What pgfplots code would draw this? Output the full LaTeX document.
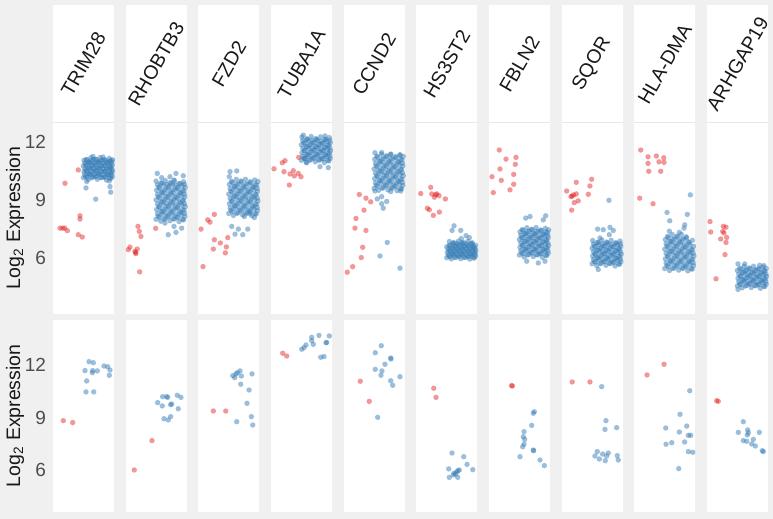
\documentclass[border=0pt]{standalone}
\usepackage{pgfplots}
\pgfplotsset{compat=1.18}
\usepackage{pgfplotstable}
\usepackage{fontspec}
\setmainfont{Liberation Sans}
\definecolor{setred}{HTML}{E41A1C}
\definecolor{setblue}{HTML}{377EB8}
\definecolor{bggray}{HTML}{F0F0F0}
\definecolor{tickgray}{HTML}{4D4D4D}
\definecolor{linegray}{HTML}{E8E8E8}

% ---------- TRIM28 ----------
\pgfplotstableread[row sep=\\]{x y\\25.3 10.55\\12.0 9.86\\27.0 8.18\\27.0 8.01\\7.0 7.54\\9.7 7.54\\11.7 7.54\\14.3 7.41\\25.3 7.20\\29.3 7.08\\}\tAr
\pgfplotstableread[row sep=\\]{x y\\
30.4 10.15\\35.1 10.05\\39.7 10.18\\44.3 10.07\\48.8 10.16\\53.4 10.03\\57.9 10.12\\
32.7 10.21\\37.2 10.31\\42.0 10.23\\46.5 10.32\\51.1 10.19\\55.6 10.28\\59.2 10.20\\
31.0 10.45\\35.8 10.35\\40.2 10.48\\44.9 10.37\\49.5 10.46\\54.0 10.33\\58.4 10.42\\
33.2 10.51\\37.9 10.61\\42.6 10.53\\47.1 10.62\\51.8 10.49\\56.3 10.58\\59.6 10.50\\
30.4 10.75\\35.1 10.65\\39.7 10.78\\44.3 10.67\\48.8 10.76\\53.4 10.63\\57.9 10.72\\
32.7 10.81\\37.2 10.91\\42.0 10.83\\46.5 10.92\\51.1 10.79\\55.6 10.88\\59.2 10.80\\
31.0 11.05\\35.8 10.95\\40.2 11.08\\44.9 10.97\\49.5 11.06\\54.0 10.93\\58.4 11.02\\
33.2 11.08\\37.9 11.18\\42.6 11.10\\47.1 11.19\\51.8 11.06\\56.3 11.15\\59.6 11.07\\
34.0 10.19\\38.5 10.14\\43.0 10.20\\47.6 10.15\\52.2 10.18\\56.8 10.13\\
31.8 10.30\\36.3 10.35\\40.9 10.31\\45.5 10.34\\50.1 10.29\\54.7 10.33\\58.8 10.31\\
34.0 10.49\\38.5 10.44\\43.0 10.50\\47.6 10.45\\52.2 10.48\\56.8 10.43\\
31.8 10.60\\36.3 10.65\\40.9 10.61\\45.5 10.64\\50.1 10.59\\54.7 10.63\\58.8 10.61\\
34.0 10.79\\38.5 10.74\\43.0 10.80\\47.6 10.75\\52.2 10.78\\56.8 10.73\\
31.8 10.90\\36.3 10.95\\40.9 10.91\\45.5 10.94\\50.1 10.89\\54.7 10.93\\58.8 10.91\\
34.0 11.08\\38.5 11.03\\43.0 11.09\\47.6 11.04\\52.2 11.07\\56.8 11.02\\
40.0 11.25\\50.0 11.22\\33.0 9.62\\42.7 9.04\\57.0 9.69\\57.7 9.40\\56.3 9.98\\33.7 9.95\\}\tAb
\pgfplotstableread[row sep=\\]{x y\\10.3 8.82\\19.7 8.71\\}\bAr
\pgfplotstableread[row sep=\\]{x y\\32 11.68\\36 12.19\\40.3 12.13\\44.3 11.66\\39.3 11.56\\39.7 11.68\\33.7 11.09\\33 10.46\\40.7 10.46\\51 11.94\\54.7 11.90\\57 11.71\\56.3 11.41\\}\bAb

% ---------- RHOBTB3 ----------
\pgfplotstableread[row sep=\\]{x y\\12.3 7.63\\13.6 7.37\\15.3 7.11\\4.3 6.56\\2.6 6.43\\9.3 6.34\\10.3 6.22\\9.8 6.28\\11.6 6.46\\14.0 5.28\\30.0 7.53\\}\tBr
\pgfplotstableread[row sep=\\]{x y\\
30.4 8.00\\35.1 7.90\\39.7 8.03\\44.3 7.92\\48.8 8.01\\53.4 7.88\\57.9 7.97\\
32.7 8.16\\37.2 8.26\\42.0 8.18\\46.5 8.27\\51.1 8.14\\55.6 8.23\\59.2 8.15\\
31.0 8.50\\35.8 8.40\\40.2 8.53\\44.9 8.42\\49.5 8.51\\54.0 8.38\\58.4 8.47\\
33.2 8.66\\37.9 8.76\\42.6 8.68\\47.1 8.77\\51.8 8.64\\56.3 8.73\\59.6 8.65\\
30.4 9.00\\35.1 8.90\\39.7 9.03\\44.3 8.92\\48.8 9.01\\53.4 8.88\\57.9 8.97\\
32.7 9.16\\37.2 9.26\\42.0 9.18\\46.5 9.27\\51.1 9.14\\55.6 9.23\\59.2 9.15\\
31.0 9.50\\35.8 9.40\\40.2 9.53\\44.9 9.42\\49.5 9.51\\54.0 9.38\\58.4 9.47\\
33.2 9.66\\37.9 9.76\\42.6 9.68\\47.1 9.77\\51.8 9.64\\56.3 9.73\\59.6 9.65\\
30.4 9.97\\35.1 9.87\\39.7 10.00\\44.3 9.89\\48.8 9.98\\53.4 9.85\\57.9 9.94\\
34.0 8.11\\38.5 8.01\\43.0 8.13\\47.6 8.03\\52.2 8.09\\56.8 7.99\\
31.8 8.28\\36.3 8.38\\40.9 8.30\\45.5 8.36\\50.1 8.26\\54.7 8.34\\58.8 8.30\\
34.0 8.61\\38.5 8.51\\43.0 8.63\\47.6 8.53\\52.2 8.59\\56.8 8.49\\
31.8 8.78\\36.3 8.88\\40.9 8.80\\45.5 8.86\\50.1 8.76\\54.7 8.84\\58.8 8.80\\
34.0 9.11\\38.5 9.01\\43.0 9.13\\47.6 9.03\\52.2 9.09\\56.8 8.99\\
31.8 9.28\\36.3 9.38\\40.9 9.30\\45.5 9.36\\50.1 9.26\\54.7 9.34\\58.8 9.30\\
34.0 9.61\\38.5 9.51\\43.0 9.63\\47.6 9.53\\52.2 9.59\\56.8 9.49\\
31.8 9.78\\36.3 9.88\\40.9 9.80\\45.5 9.86\\50.1 9.76\\54.7 9.84\\58.8 9.80\\
31.6 10.37\\36.0 10.15\\44.3 10.20\\50.3 10.37\\57.6 10.25\\48.3 10.03\\39.3 7.80\\42.6 7.20\\50.3 7.32\\56.0 7.54\\48.3 7.63\\}\tBb
\pgfplotstableread[row sep=\\]{x y\\8.6 6.0\\26.3 7.68\\}\bBr
\pgfplotstableread[row sep=\\]{x y\\32 9.85\\37 10.19\\41 10.19\\42 10.15\\36.6 9.66\\45 9.73\\46 9.77\\51.6 10.27\\55.3 10.15\\52.6 9.50\\38.3 8.93\\42.6 8.86\\45 9.05\\}\bBb

% ---------- FZD2 ----------
\pgfplotstableread[row sep=\\]{x y\\16.0 8.25\\9.4 7.97\\11.7 7.85\\2.7 7.49\\16.0 6.94\\22.0 6.77\\29.4 7.05\\15.0 6.46\\28.0 6.57\\27.0 6.26\\4.7 5.55\\}\tCr
\pgfplotstableread[row sep=\\]{x y\\
30.4 8.30\\35.1 8.20\\39.7 8.33\\44.3 8.22\\48.8 8.31\\53.4 8.18\\57.9 8.27\\
32.7 8.46\\37.2 8.56\\42.0 8.48\\46.5 8.57\\51.1 8.44\\55.6 8.53\\59.2 8.45\\
31.0 8.80\\35.8 8.70\\40.2 8.83\\44.9 8.72\\49.5 8.81\\54.0 8.68\\58.4 8.77\\
33.2 8.96\\37.9 9.06\\42.6 8.98\\47.1 9.07\\51.8 8.94\\56.3 9.03\\59.6 8.95\\
30.4 9.30\\35.1 9.20\\39.7 9.33\\44.3 9.22\\48.8 9.31\\53.4 9.18\\57.9 9.27\\
32.7 9.46\\37.2 9.56\\42.0 9.48\\46.5 9.57\\51.1 9.44\\55.6 9.53\\59.2 9.45\\
31.0 9.80\\35.8 9.70\\40.2 9.83\\44.9 9.72\\49.5 9.81\\54.0 9.68\\58.4 9.77\\
33.2 9.96\\37.9 10.06\\42.6 9.98\\47.1 10.07\\51.8 9.94\\56.3 10.03\\59.6 9.95\\
34.0 8.41\\38.5 8.31\\43.0 8.43\\47.6 8.33\\52.2 8.39\\56.8 8.29\\
31.8 8.58\\36.3 8.68\\40.9 8.60\\45.5 8.66\\50.1 8.56\\54.7 8.64\\58.8 8.60\\
34.0 8.91\\38.5 8.81\\43.0 8.93\\47.6 8.83\\52.2 8.89\\56.8 8.79\\
31.8 9.08\\36.3 9.18\\40.9 9.10\\45.5 9.16\\50.1 9.06\\54.7 9.14\\58.8 9.10\\
34.0 9.41\\38.5 9.31\\43.0 9.43\\47.6 9.33\\52.2 9.39\\56.8 9.29\\
31.8 9.58\\36.3 9.68\\40.9 9.60\\45.5 9.66\\50.1 9.56\\54.7 9.64\\58.8 9.60\\
34.0 9.91\\38.5 9.81\\43.0 9.93\\47.6 9.83\\52.2 9.89\\56.8 9.79\\
31.7 10.46\\38.4 10.50\\31.0 10.20\\33.4 7.63\\40.0 7.49\\36.7 7.23\\44.4 7.20\\49.4 7.49\\46.0 8.14\\56.0 8.09\\51.7 8.30\\}\tCb
\pgfplotstableread[row sep=\\]{x y\\15 9.37\\27.4 9.37\\}\bCr
\pgfplotstableread[row sep=\\]{x y\\34.4 11.39\\36.4 11.28\\39 11.56\\41.7 11.66\\43 11.37\\37.7 11.49\\42.4 10.90\\50.7 10.57\\53.7 11.49\\48.7 9.81\\53 9.05\\54.4 8.57\\38.4 8.76\\}\bCb

% ---------- TUBA1A ----------
\pgfplotstableread[row sep=\\]{x y\\3.0 10.61\\11.3 10.92\\14.0 11.03\\13.0 10.46\\19.0 10.34\\22.3 10.51\\23.3 10.24\\27.3 10.37\\18.3 9.77\\27.7 11.20\\30.0 10.20\\}\tDr
\pgfplotstableread[row sep=\\]{x y\\
30.4 11.05\\35.1 10.95\\39.7 11.08\\44.3 10.97\\48.8 11.06\\53.4 10.93\\57.9 11.02\\
32.7 11.16\\37.2 11.26\\42.0 11.18\\46.5 11.27\\51.1 11.14\\55.6 11.23\\59.2 11.15\\
31.0 11.45\\35.8 11.35\\40.2 11.48\\44.9 11.37\\49.5 11.46\\54.0 11.33\\58.4 11.42\\
33.2 11.56\\37.9 11.66\\42.6 11.58\\47.1 11.67\\51.8 11.54\\56.3 11.63\\59.6 11.55\\
30.4 11.85\\35.1 11.75\\39.7 11.88\\44.3 11.77\\48.8 11.86\\53.4 11.73\\57.9 11.82\\
32.7 11.96\\37.2 12.06\\42.0 11.98\\46.5 12.07\\51.1 11.94\\55.6 12.03\\59.2 11.95\\
31.0 12.25\\35.8 12.15\\40.2 12.28\\44.9 12.17\\49.5 12.26\\54.0 12.13\\58.4 12.22\\
34.0 11.13\\38.5 11.05\\43.0 11.15\\47.6 11.07\\52.2 11.12\\56.8 11.04\\
31.8 11.27\\36.3 11.35\\40.9 11.28\\45.5 11.33\\50.1 11.25\\54.7 11.32\\58.8 11.28\\
34.0 11.53\\38.5 11.45\\43.0 11.55\\47.6 11.47\\52.2 11.52\\56.8 11.44\\
31.8 11.67\\36.3 11.75\\40.9 11.68\\45.5 11.73\\50.1 11.65\\54.7 11.72\\58.8 11.68\\
34.0 11.93\\38.5 11.85\\43.0 11.95\\47.6 11.87\\52.2 11.92\\56.8 11.84\\
31.8 12.07\\36.3 12.15\\40.9 12.08\\45.5 12.13\\50.1 12.05\\54.7 12.12\\58.8 12.08\\
32.3 12.35\\54.0 12.31\\35.7 10.92\\49.0 10.72\\57.3 10.67\\34.0 11.15\\}\tDb
\pgfplotstableread[row sep=\\]{x y\\11.7 12.67\\15.7 12.51\\}\bDr
\pgfplotstableread[row sep=\\]{x y\\30.7 12.9\\33 12.99\\35 13.14\\40.7 13.58\\40.7 13.39\\42.3 13.18\\48 13.69\\58.3 13.66\\55 13.27\\55.7 13.29\\49.7 12.44\\53 12.48\\}\bDb

% ---------- CCND2 ----------
\pgfplotstableread[row sep=\\]{x y\\15.6 9.28\\22.3 9.09\\27.0 8.90\\20.3 8.47\\12.3 8.04\\11.3 7.54\\22.3 7.42\\19.0 6.55\\17.6 6.02\\9.0 5.55\\3.6 5.26\\}\tEr
\pgfplotstableread[row sep=\\]{x y\\
30.4 9.60\\35.1 9.50\\39.7 9.63\\44.3 9.52\\48.8 9.61\\53.4 9.48\\57.9 9.57\\
32.7 9.76\\37.2 9.86\\42.0 9.78\\46.5 9.87\\51.1 9.74\\55.6 9.83\\59.2 9.75\\
31.0 10.10\\35.8 10.00\\40.2 10.13\\44.9 10.02\\49.5 10.11\\54.0 9.98\\58.4 10.07\\
33.2 10.26\\37.9 10.36\\42.6 10.28\\47.1 10.37\\51.8 10.24\\56.3 10.33\\59.6 10.25\\
30.4 10.60\\35.1 10.50\\39.7 10.63\\44.3 10.52\\48.8 10.61\\53.4 10.48\\57.9 10.57\\
32.7 10.76\\37.2 10.86\\42.0 10.78\\46.5 10.87\\51.1 10.74\\55.6 10.83\\59.2 10.75\\
31.0 11.10\\35.8 11.00\\40.2 11.13\\44.9 11.02\\49.5 11.11\\54.0 10.98\\58.4 11.07\\
33.2 11.26\\37.9 11.36\\42.6 11.28\\47.1 11.37\\51.8 11.24\\56.3 11.33\\59.6 11.25\\
34.0 9.71\\38.5 9.61\\43.0 9.73\\47.6 9.63\\52.2 9.69\\56.8 9.59\\
31.8 9.88\\36.3 9.98\\40.9 9.90\\45.5 9.96\\50.1 9.86\\54.7 9.94\\58.8 9.90\\
34.0 10.21\\38.5 10.11\\43.0 10.23\\47.6 10.13\\52.2 10.19\\56.8 10.09\\
31.8 10.38\\36.3 10.48\\40.9 10.40\\45.5 10.46\\50.1 10.36\\54.7 10.44\\58.8 10.40\\
34.0 10.71\\38.5 10.61\\43.0 10.73\\47.6 10.63\\52.2 10.69\\56.8 10.59\\
31.8 10.88\\36.3 10.98\\40.9 10.90\\45.5 10.96\\50.1 10.86\\54.7 10.94\\58.8 10.90\\
34.0 11.21\\38.5 11.11\\43.0 11.23\\47.6 11.13\\52.2 11.19\\56.8 11.09\\
31.3 11.44\\38.0 11.45\\47.0 11.35\\56.3 11.32\\31.3 9.46\\33.6 9.05\\38.0 9.17\\38.0 8.80\\39.6 8.57\\43.0 8.92\\47.0 9.43\\57.0 9.46\\43.6 6.80\\36.3 6.10\\56.3 5.47\\}\tEb
\pgfplotstableread[row sep=\\]{x y\\16.6 11.07\\25.6 9.92\\}\bEr
\pgfplotstableread[row sep=\\]{x y\\31.6 12.70\\37.6 13.10\\41.3 12.04\\31.6 11.75\\38.3 11.66\\37.3 11.41\\47 12.40\\47.3 12.34\\47 11.10\\56.3 11.33\\49 10.84\\34 9.01\\}\bEb

% ---------- HS3ST2 ----------
\pgfplotstableread[row sep=\\]{x y\\4.4 9.33\\14.4 9.65\\15.4 9.31\\18.0 9.14\\20.4 9.31\\19.2 9.27\\22.7 9.22\\29.0 9.05\\11.0 8.57\\13.0 8.49\\23.0 8.37\\17.0 8.20\\}\tFr
\pgfplotstableread[row sep=\\]{x y\\
30.4 6.01\\35.1 5.95\\39.7 6.03\\44.3 5.96\\48.8 6.02\\53.4 5.94\\57.9 5.99\\
32.7 6.09\\37.2 6.16\\42.0 6.11\\46.5 6.17\\51.1 6.08\\55.6 6.14\\59.2 6.09\\
31.0 6.29\\35.8 6.23\\40.2 6.31\\44.9 6.24\\49.5 6.30\\54.0 6.22\\58.4 6.27\\
33.2 6.37\\37.9 6.44\\42.6 6.39\\47.1 6.45\\51.8 6.36\\56.3 6.42\\59.6 6.37\\
30.4 6.57\\35.1 6.51\\39.7 6.59\\44.3 6.52\\48.8 6.58\\53.4 6.50\\57.9 6.55\\
32.7 6.65\\37.2 6.72\\42.0 6.67\\46.5 6.73\\51.1 6.64\\55.6 6.70\\59.2 6.65\\
33.0 6.85\\37.8 6.79\\42.2 6.87\\46.9 6.80\\51.5 6.86\\56.0 6.78\\
34.0 6.07\\38.5 6.03\\43.0 6.08\\47.6 6.03\\52.2 6.06\\56.8 6.02\\
31.8 6.17\\36.3 6.21\\40.9 6.18\\45.5 6.21\\50.1 6.17\\54.7 6.20\\58.8 6.18\\
34.0 6.35\\38.5 6.31\\43.0 6.36\\47.6 6.31\\52.2 6.34\\56.8 6.30\\
31.8 6.45\\36.3 6.49\\40.9 6.46\\45.5 6.49\\50.1 6.45\\54.7 6.48\\58.8 6.46\\
34.0 6.63\\38.5 6.59\\43.0 6.64\\47.6 6.59\\52.2 6.62\\56.8 6.58\\
36.3 6.77\\40.9 6.74\\45.5 6.77\\50.1 6.73\\54.7 6.76\\
37.7 7.66\\44.4 7.42\\49.7 7.15\\35.7 7.42\\45.0 7.00\\53.0 7.05\\}\tFb
\pgfplotstableread[row sep=\\]{x y\\17.4 10.67\\19.7 10.15\\}\bFr
\pgfplotstableread[row sep=\\]{x y\\35.7 6.97\\47.4 6.76\\50.7 6.32\\56.4 6.02\\32.4 6.06\\33 5.58\\37.7 5.81\\40.4 5.90\\41.7 5.96\\43 6.00\\39.4 5.77\\41.4 5.58\\37 5.72\\}\bFb

% ---------- FBLN2 ----------
\pgfplotstableread[row sep=\\]{x y\\10.3 11.58\\17.0 11.11\\27.0 11.20\\26.3 10.84\\11.0 10.60\\24.7 10.32\\3.0 10.20\\12.3 10.01\\24.7 9.81\\21.0 9.52\\4.3 9.38\\}\tGr
\pgfplotstableread[row sep=\\]{x y\\
30.4 6.15\\35.1 6.05\\39.7 6.18\\44.3 6.07\\48.8 6.16\\53.4 6.03\\57.9 6.12\\
32.7 6.26\\37.2 6.36\\42.0 6.28\\46.5 6.37\\51.1 6.24\\55.6 6.33\\59.2 6.25\\
31.0 6.55\\35.8 6.45\\40.2 6.58\\44.9 6.47\\49.5 6.56\\54.0 6.43\\58.4 6.52\\
33.2 6.66\\37.9 6.76\\42.6 6.68\\47.1 6.77\\51.8 6.64\\56.3 6.73\\59.6 6.65\\
30.4 6.95\\35.1 6.85\\39.7 6.98\\44.3 6.87\\48.8 6.96\\53.4 6.83\\57.9 6.92\\
32.7 7.06\\37.2 7.16\\42.0 7.08\\46.5 7.17\\51.1 7.04\\55.6 7.13\\59.2 7.05\\
31.0 7.35\\35.8 7.25\\40.2 7.38\\44.9 7.27\\49.5 7.36\\54.0 7.23\\58.4 7.32\\
33.2 7.46\\37.9 7.56\\42.6 7.48\\47.1 7.57\\51.8 7.44\\56.3 7.53\\59.6 7.45\\
34.0 6.23\\38.5 6.15\\43.0 6.25\\47.6 6.17\\52.2 6.22\\56.8 6.14\\
31.8 6.37\\36.3 6.45\\40.9 6.38\\45.5 6.43\\50.1 6.35\\54.7 6.42\\58.8 6.38\\
34.0 6.63\\38.5 6.55\\43.0 6.65\\47.6 6.57\\52.2 6.62\\56.8 6.54\\
31.8 6.77\\36.3 6.85\\40.9 6.78\\45.5 6.83\\50.1 6.75\\54.7 6.82\\58.8 6.78\\
34.0 7.03\\38.5 6.95\\43.0 7.05\\47.6 6.97\\52.2 7.02\\56.8 6.94\\
31.8 7.17\\36.3 7.25\\40.9 7.18\\45.5 7.23\\50.1 7.15\\54.7 7.22\\58.8 7.18\\
34.0 7.43\\38.5 7.35\\43.0 7.45\\47.6 7.37\\52.2 7.42\\56.8 7.34\\
36.7 8.06\\41.0 8.14\\54.3 7.97\\56.7 8.18\\37.7 5.83\\49.3 5.74\\56.0 5.83\\}\tGb
\pgfplotstableread[row sep=\\]{x y\\22.5 10.82\\23.5 10.80\\}\bGr
\pgfplotstableread[row sep=\\]{x y\\44.3 9.24\\45.3 9.33\\42.7 8.55\\35 8.19\\34.3 7.90\\35.7 7.75\\35 7.48\\33.7 7.33\\31 6.76\\44.3 7.14\\44.6 7.10\\51 6.57\\55.3 6.25\\}\bGb

% ---------- SQOR ----------
\pgfplotstableread[row sep=\\]{x y\\5.0 9.46\\14.6 9.91\\30.0 10.07\\28.3 9.72\\9.3 9.17\\10.5 9.20\\12.0 9.26\\14.6 9.31\\16.6 8.95\\12.6 8.86\\26.7 9.29\\10.0 8.47\\}\tHr
\pgfplotstableread[row sep=\\]{x y\\
30.4 5.70\\35.1 5.60\\39.7 5.73\\44.3 5.62\\48.8 5.71\\53.4 5.58\\57.9 5.67\\
32.7 5.81\\37.2 5.91\\42.0 5.83\\46.5 5.92\\51.1 5.79\\55.6 5.88\\59.2 5.80\\
31.0 6.10\\35.8 6.00\\40.2 6.13\\44.9 6.02\\49.5 6.11\\54.0 5.98\\58.4 6.07\\
33.2 6.21\\37.9 6.31\\42.6 6.23\\47.1 6.32\\51.8 6.19\\56.3 6.28\\59.6 6.20\\
30.4 6.50\\35.1 6.40\\39.7 6.53\\44.3 6.42\\48.8 6.51\\53.4 6.38\\57.9 6.47\\
32.7 6.61\\37.2 6.71\\42.0 6.63\\46.5 6.72\\51.1 6.59\\55.6 6.68\\59.2 6.60\\
31.0 6.90\\35.8 6.80\\40.2 6.93\\44.9 6.82\\49.5 6.91\\54.0 6.78\\58.4 6.87\\
34.0 5.78\\38.5 5.70\\43.0 5.80\\47.6 5.72\\52.2 5.77\\56.8 5.69\\
31.8 5.92\\36.3 6.00\\40.9 5.93\\45.5 5.98\\50.1 5.90\\54.7 5.97\\58.8 5.93\\
34.0 6.18\\38.5 6.10\\43.0 6.20\\47.6 6.12\\52.2 6.17\\56.8 6.09\\
31.8 6.32\\36.3 6.40\\40.9 6.33\\45.5 6.38\\50.1 6.30\\54.7 6.37\\58.8 6.33\\
34.0 6.58\\38.5 6.50\\43.0 6.60\\47.6 6.52\\52.2 6.57\\56.8 6.49\\
31.8 6.72\\36.3 6.80\\40.9 6.73\\45.5 6.78\\50.1 6.70\\54.7 6.77\\58.8 6.73\\
36.0 7.49\\41.6 7.46\\48.3 7.58\\51.6 7.42\\47.6 7.20\\38.3 7.03\\47.3 8.98\\36.6 5.40\\}\tHb
\pgfplotstableread[row sep=\\]{x y\\10.6 11.03\\28.3 11.03\\}\bHr
\pgfplotstableread[row sep=\\]{x y\\40 10.76\\44.3 8.82\\43.3 8.32\\55 8.42\\35.6 7.05\\33.3 6.80\\37.7 6.63\\41 6.91\\45 6.80\\46.6 6.97\\43.6 6.53\\55.6 6.82\\56.6 6.57\\}\bHb

% ---------- HLA-DMA ----------
\pgfplotstableread[row sep=\\]{x y\\6.4 11.58\\13.7 11.23\\22.0 11.27\\13.7 10.89\\24.7 10.97\\29.7 10.94\\29.4 11.18\\14.4 10.48\\26.4 10.48\\5.4 9.09\\18.7 8.80\\}\tIr
\pgfplotstableread[row sep=\\]{x y\\
30.4 5.45\\35.1 5.35\\39.7 5.48\\44.3 5.37\\48.8 5.46\\53.4 5.33\\57.9 5.42\\
32.7 5.61\\37.2 5.71\\42.0 5.63\\46.5 5.72\\51.1 5.59\\55.6 5.68\\59.2 5.60\\
31.0 5.95\\35.8 5.85\\40.2 5.98\\44.9 5.87\\49.5 5.96\\54.0 5.83\\58.4 5.92\\
33.2 6.11\\37.9 6.21\\42.6 6.13\\47.1 6.22\\51.8 6.09\\56.3 6.18\\59.6 6.10\\
30.4 6.45\\35.1 6.35\\39.7 6.48\\44.3 6.37\\48.8 6.46\\53.4 6.33\\57.9 6.42\\
32.7 6.61\\37.2 6.71\\42.0 6.63\\46.5 6.72\\51.1 6.59\\55.6 6.68\\59.2 6.60\\
31.0 6.95\\35.8 6.85\\40.2 6.98\\44.9 6.87\\49.5 6.96\\54.0 6.83\\
33.2 7.11\\37.9 7.21\\42.6 7.13\\47.1 7.22\\51.8 7.09\\35.0 7.38\\45.0 7.32\\
34.0 5.56\\38.5 5.46\\43.0 5.58\\47.6 5.48\\52.2 5.54\\56.8 5.44\\
31.8 5.73\\36.3 5.83\\40.9 5.75\\45.5 5.81\\50.1 5.71\\54.7 5.79\\58.8 5.75\\
34.0 6.06\\38.5 5.96\\43.0 6.08\\47.6 5.98\\52.2 6.04\\56.8 5.94\\
31.8 6.23\\36.3 6.33\\40.9 6.25\\45.5 6.31\\50.1 6.21\\54.7 6.29\\58.8 6.25\\
34.0 6.56\\38.5 6.46\\43.0 6.58\\47.6 6.48\\52.2 6.54\\56.8 6.44\\
31.8 6.73\\36.3 6.83\\40.9 6.75\\45.5 6.81\\50.1 6.71\\54.7 6.79\\
34.0 7.06\\38.5 6.96\\43.0 7.08\\47.6 6.98\\52.2 7.04\\
56.0 9.26\\32.7 8.35\\53.0 8.25\\35.4 7.92\\50.4 7.71\\49.7 7.54\\58.0 6.91\\}\tIb
\pgfplotstableread[row sep=\\]{x y\\12.7 11.43\\29.7 12.04\\}\bIr
\pgfplotstableread[row sep=\\]{x y\\55.4 10.53\\45.7 9.18\\31.4 8.40\\45 8.17\\52.4 8.51\\54 7.98\\56.4 7.98\\37.4 7.56\\31.7 7.47\\50.3 7.60\\54 7.05\\58.4 7.01\\44.4 6.08\\}\bIb

% ---------- ARHGAP19 ----------
\pgfplotstableread[row sep=\\]{x y\\3.0 7.88\\3.7 7.34\\16.3 7.63\\19.0 7.59\\15.7 7.37\\17.0 7.29\\19.7 7.06\\13.7 6.98\\19.0 6.80\\18.0 6.17\\9.0 4.92\\}\tJr
\pgfplotstableread[row sep=\\]{x y\\
30.4 4.55\\35.1 4.45\\39.7 4.58\\44.3 4.47\\48.8 4.56\\53.4 4.43\\57.9 4.52\\
32.7 4.66\\37.2 4.76\\42.0 4.68\\46.5 4.77\\51.1 4.64\\55.6 4.73\\59.2 4.65\\
31.0 4.95\\35.8 4.85\\40.2 4.98\\44.9 4.87\\49.5 4.96\\54.0 4.83\\58.4 4.92\\
33.2 5.06\\37.9 5.16\\42.6 5.08\\47.1 5.17\\51.8 5.04\\56.3 5.13\\59.6 5.05\\
30.4 5.35\\35.1 5.25\\39.7 5.38\\44.3 5.27\\48.8 5.36\\53.4 5.23\\57.9 5.32\\
32.7 5.46\\37.2 5.56\\42.0 5.48\\46.5 5.57\\51.1 5.44\\55.6 5.53\\59.2 5.45\\
34.0 4.63\\38.5 4.55\\43.0 4.65\\47.6 4.57\\52.2 4.62\\56.8 4.54\\
31.8 4.77\\36.3 4.85\\40.9 4.78\\45.5 4.83\\50.1 4.75\\54.7 4.82\\58.8 4.78\\
34.0 5.03\\38.5 4.95\\43.0 5.05\\47.6 4.97\\52.2 5.02\\56.8 4.94\\
31.8 5.17\\36.3 5.25\\40.9 5.18\\45.5 5.23\\50.1 5.15\\54.7 5.22\\58.8 5.18\\
34.0 5.43\\38.5 5.35\\43.0 5.45\\47.6 5.37\\52.2 5.42\\56.8 5.34\\
31.0 5.69\\37.7 5.69\\57.0 5.60\\52.7 5.62\\31.0 4.37\\}\tJb
\pgfplotstableread[row sep=\\]{x y\\9.7 9.96\\11.3 9.92\\}\bJr
\pgfplotstableread[row sep=\\]{x y\\36.3 8.76\\31.3 8.15\\40.7 8.29\\41.3 8.13\\40.3 8.00\\52.3 8.15\\36.3 7.68\\39.7 7.64\\44.7 7.49\\46.3 7.75\\48.3 7.37\\55.3 7.10\\56.3 7.05\\}\bJb

\pgfplotsset{
  panel/.style={scale only axis, width=30.5pt, height=96pt, xmin=0, xmax=61,
    anchor=south west, axis line style={draw=none}, xtick=\empty, ytick=\empty,
    major tick length=0pt, axis background/.style={fill=white},
    tick label style={font=\fontsize{9.5}{11}\selectfont, text=tickgray},
    /pgf/number format/assume math mode=true,
    ylabel style={font=\fontsize{9.75}{11}\selectfont, text=black!90,
      at={(axis description cs:-0.623,0.5)}, anchor=center}},
  toppanel/.style={panel, ymin=3.1, ymax=13.03},
  botpanel/.style={panel, ymin=3.6, ymax=14.57},
  firstcol/.style={ytick={6,9,12}, ylabel={Log\textsubscript{2} Expression}},
  redpts/.style={only marks, mark=*, mark size=1.35pt, color=setred,
    mark options={draw opacity=0, fill=setred, fill opacity=0.45}},
  bluepts/.style={only marks, mark=*, mark size=1.35pt, color=setblue,
    mark options={draw opacity=0, fill=setblue, fill opacity=0.5}},
}
\tikzset{striplabel/.style={rotate=60, font=\fontsize{9.75}{11}\selectfont, text=black!90, inner sep=0pt}}

\newcommand{\panelpair}[7]{%
  \fill[white] (#1,198.5pt) rectangle ++(30.5pt,58.5pt);
  \begin{axis}[toppanel, #7, at={(#1,102.5pt)}]
    \addplot[bluepts] table {#3};
    \addplot[redpts] table {#2};
  \end{axis}
  \begin{axis}[botpanel, #7, at={(#1,3.5pt)}]
    \addplot[bluepts] table {#5};
    \addplot[redpts] table {#4};
  \end{axis}
  \draw[linegray, line width=0.4pt] (#1,198.5pt) -- ++(30.5pt,0);
  \node[striplabel] at (#1+15.25pt,227.5pt) {#6};
}

\begin{document}
\begin{tikzpicture}
\useasboundingbox (0,0) rectangle (386.5pt,259.5pt);
\fill[bggray] (0,0) rectangle (386.5pt,259.5pt);
\panelpair{26.5pt}{\tAr}{\tAb}{\bAr}{\bAb}{TRIM28}{firstcol}
\panelpair{62.83pt}{\tBr}{\tBb}{\bBr}{\bBb}{RHOBTB3}{}
\panelpair{99.17pt}{\tCr}{\tCb}{\bCr}{\bCb}{FZD2}{}
\panelpair{135.5pt}{\tDr}{\tDb}{\bDr}{\bDb}{TUBA1A}{}
\panelpair{171.83pt}{\tEr}{\tEb}{\bEr}{\bEb}{CCND2}{}
\panelpair{208.17pt}{\tFr}{\tFb}{\bFr}{\bFb}{HS3ST2}{}
\panelpair{244.5pt}{\tGr}{\tGb}{\bGr}{\bGb}{FBLN2}{}
\panelpair{280.83pt}{\tHr}{\tHb}{\bHr}{\bHb}{SQOR}{}
\panelpair{317.17pt}{\tIr}{\tIb}{\bIr}{\bIb}{HLA-DMA}{}
\panelpair{353.5pt}{\tJr}{\tJb}{\bJr}{\bJb}{ARHGAP19}{}
\end{tikzpicture}
\end{document}
